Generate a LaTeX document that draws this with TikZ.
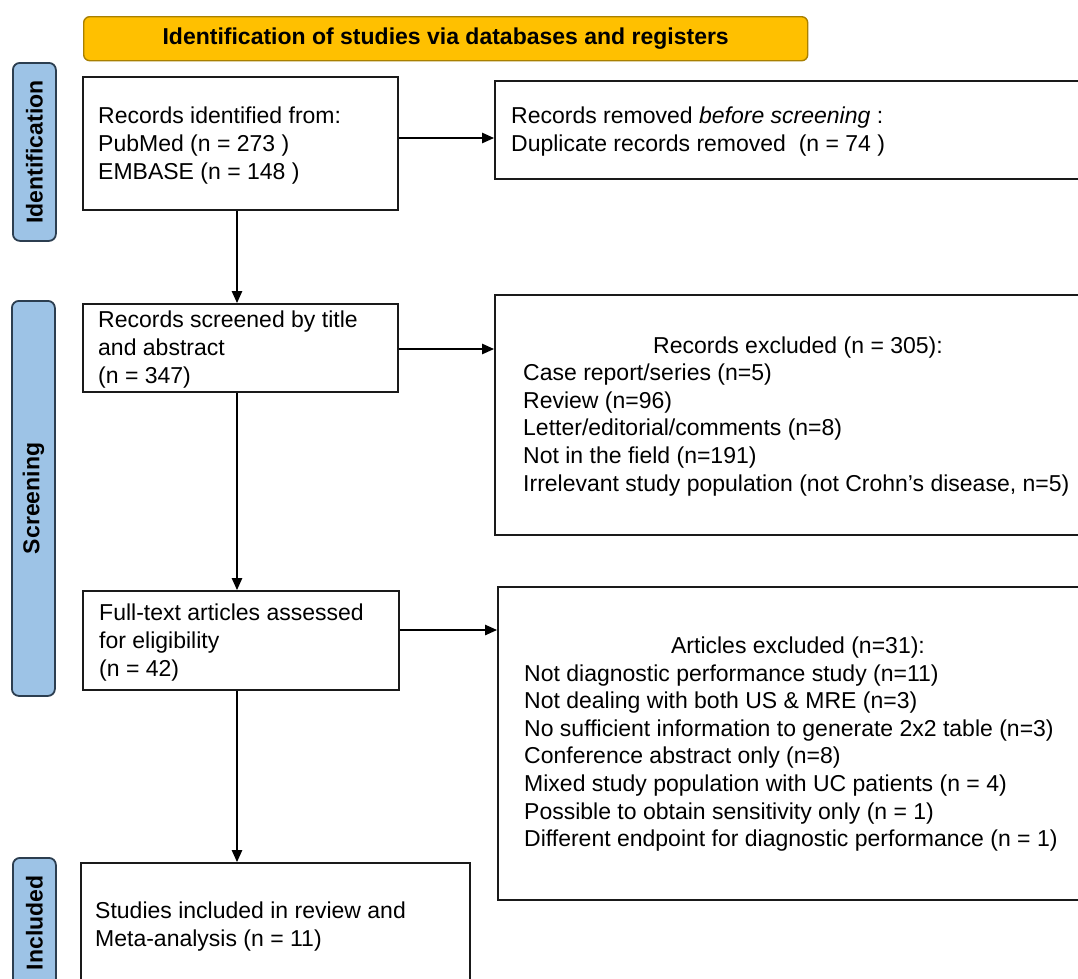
\documentclass[tikz,border=0pt]{standalone}
\usepackage{fontspec}
\setmainfont{Liberation Sans}
\usetikzlibrary{arrows.meta}
\definecolor{bannerfill}{HTML}{FFC000}
\definecolor{bannerline}{HTML}{A98000}
\definecolor{tabfill}{HTML}{9DC3E6}
\definecolor{tabline}{HTML}{2C3E50}
\definecolor{boxline}{HTML}{1A1A1A}
\newcommand{\txtlines}[1]{\begin{tabular}[t]{@{}l@{}}#1\end{tabular}}
\begin{document}
\begin{tikzpicture}[x=1pt,y=-1pt,
  box/.style={draw=boxline, line width=1.8pt, fill=white, rectangle, anchor=north west, inner sep=0pt},
  tabbox/.style={draw=tabline, line width=1.8pt, fill=tabfill, rounded corners=7pt, rectangle, anchor=north west, inner sep=0pt},
  banner/.style={draw=bannerline, line width=1.4pt, fill=bannerfill, rounded corners=6pt, rectangle, anchor=north west, inner sep=0pt, font=\fontsize{23}{28}\selectfont\bfseries},
  txt/.style={inner sep=0pt, font=\fontsize{23}{28}\selectfont},
  txtb/.style={inner sep=0pt, font=\fontsize{23}{27.65}\selectfont},
  tablabel/.style={inner sep=0pt, rotate=90, font=\fontsize{23}{28}\selectfont\bfseries},
  arr/.style={draw=black, line width=1.2pt, -{Triangle[length=12pt,width=10.5pt]}}
]
\clip (0,0) rectangle (1078,978);
\fill[white] (0,0) rectangle (1078,978);

% banner
\node[banner, minimum width=724pt, minimum height=44pt] (ban) at (83,16) {};
\node[inner sep=0pt, font=\fontsize{23}{28}\selectfont\bfseries] (bantxt) at (ban.center) {Identification of studies via databases and registers};

% side tabs
\node[tabbox, minimum width=43pt, minimum height=178pt] (tab1) at (12,62) {};
\node[tablabel] (tab1t) at (tab1.center) {Identification};
\node[tabbox, minimum width=43pt, minimum height=395pt] (tab2) at (11,300) {};
\node[tablabel] (tab2t) at (tab2.center) {Screening};
\node[tabbox, minimum width=43pt, minimum height=130pt] (tab3) at (12,857) {};
\node[tablabel] (tab3t) at (tab3.center) {Included};

% boxes
\node[box, minimum width=315pt, minimum height=133pt] (b1) at (82,76) {};
\node[box, minimum width=620pt, minimum height=98pt] (b2) at (494,80) {};
\node[box, minimum width=315pt, minimum height=88pt] (b3) at (82,303) {};
\node[box, minimum width=620pt, minimum height=240pt] (b4) at (494,294) {};
\node[box, minimum width=316pt, minimum height=99pt] (b5) at (82,590) {};
\node[box, minimum width=620pt, minimum height=313pt] (b6) at (497,586) {};
\node[box, minimum width=389pt, minimum height=150pt] (b7) at (80,862) {};

% texts
\node[txt, anchor=base west] (t1) at (98,123) {\txtlines{Records identified from:\\PubMed (n = 273 )\\EMBASE (n = 148 )}};
\node[txt, anchor=base west] (t2) at (511,123) {\txtlines{Records removed \textit{before screening} :\\Duplicate records removed~ (n = 74 )}};
\node[txt, anchor=base west] (t3) at (98,327) {\txtlines{Records screened by title\\and abstract\\(n = 347)}};
\node[txt, anchor=base] (t4h) at (798,353) {Records excluded (n = 305):};
\node[txtb, anchor=base west] (t4) at (523,380.5) {\txtlines{Case report/series (n=5)\\Review (n=96)\\Letter/editorial/comments (n=8)\\Not in the field (n=191)\\Irrelevant study population (not Crohn’s disease, n=5)}};
\node[txt, anchor=base west] (t5) at (99,620) {\txtlines{Full-text articles assessed\\for eligibility\\(n = 42)}};
\node[txt, anchor=base] (t6h) at (798,653) {Articles excluded (n=31):};
\node[txtb, anchor=base west] (t6) at (524,681) {\txtlines{Not diagnostic performance study (n=11)\\Not dealing with both US \& MRE (n=3)\\No sufficient information to generate 2x2 table (n=3)\\Conference abstract only (n=8)\\Mixed study population with UC patients (n = 4)\\Possible to obtain sensitivity only (n = 1)\\Different endpoint for diagnostic performance (n = 1)}};
\node[txt, anchor=base west] (t7) at (95,918) {\txtlines{Studies included in review and\\Meta-analysis (n = 11)}};

% connectors
\coordinate (cx) at (237,0);
\coordinate (r1) at (0,138);
\coordinate (r2) at (0,349);
\coordinate (r3) at (0,630);
\draw[arr] (b1.south -| cx) -- (b3.north -| cx);
\draw[arr] (b3.south -| cx) -- (b5.north -| cx);
\draw[arr] (b5.south -| cx) -- (b7.north -| cx);
\draw[arr] (b1.east |- r1) -- (b2.west |- r1);
\draw[arr] (b3.east |- r2) -- (b4.west |- r2);
\draw[arr] (b5.east |- r3) -- (b6.west |- r3);
\end{tikzpicture}
\end{document}
